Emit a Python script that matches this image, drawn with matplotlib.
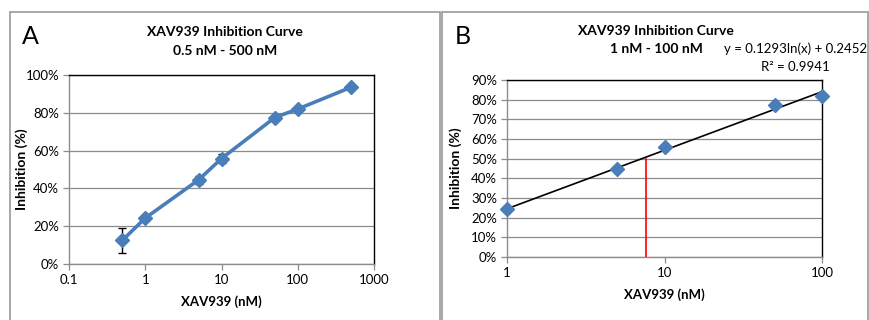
import numpy as np
import matplotlib.pyplot as plt
from matplotlib.patches import Rectangle
from matplotlib.ticker import FuncFormatter, FixedLocator, NullLocator

plt.rcParams['font.family'] = ['Lato', 'DejaVu Sans']

# panel A data
conc_a = [0.5, 1, 5, 10, 50, 100, 500]
inhib_a = [12.5, 24.3, 44.5, 55.8, 77.5, 82.0, 93.5]
err_a = [6.5, 0.5, 2.0, 2.2, 0.5, 0.5, 0.3]

# panel B data
conc_b = [1, 5, 10, 50, 100]
inhib_b = [24.3, 44.5, 55.8, 77.5, 82.0]
fit_a, fit_b = 0.1293, 0.2452
ic50_x = 7.6

blue = '#4A7EBB'
W, H = 869, 320

fig = plt.figure(figsize=(W / 100, H / 100), dpi=100)


def px_axes(l, t, r, b):
    return fig.add_axes([l / W, 1 - b / H, (r - l) / W, (b - t) / H])


# panel frames
fig.patches.append(Rectangle((10 / W, -0.1), 430 / W, 1.1 - 12 / H, transform=fig.transFigure,
                             fill=False, ec='#9a9a9a', lw=1.2))
fig.patches.append(Rectangle((442 / W, -0.1), 426 / W, 1.1 - 12 / H, transform=fig.transFigure,
                             fill=False, ec='#9a9a9a', lw=1.2))


def style(ax, ylab_x):
    ax.set_xscale('log')
    ax.yaxis.grid(True, color='#8c8c8c', lw=0.9)
    ax.set_axisbelow(True)
    ax.spines['top'].set_color('black')
    ax.spines['right'].set_color('black')
    ax.spines['left'].set_color('#8c8c8c')
    ax.spines['bottom'].set_color('#8c8c8c')
    for s in ax.spines.values():
        s.set_linewidth(1.0)
    ax.tick_params(axis='both', labelsize=9.5, color='#8c8c8c', length=4, width=0.9, pad=3)
    ax.xaxis.set_minor_locator(NullLocator())
    ax.xaxis.set_major_formatter(FuncFormatter(lambda v, p: '%g' % v))
    ax.yaxis.set_major_formatter(FuncFormatter(lambda v, p: '%d%%' % round(v)))
    ax.set_xlabel('XAV939 (nM)', fontsize=9.5, fontweight='bold', labelpad=7)
    ax.set_ylabel('Inhibition (%)', fontsize=10, fontweight='bold')
    ax.yaxis.set_label_coords(ylab_x, 0.5)


# ---- panel A
ax1 = px_axes(69, 75, 374, 264)
style(ax1, -0.134)
ax1.errorbar(conc_a, inhib_a, yerr=err_a, fmt='none', ecolor='black', elinewidth=1,
             capsize=3, zorder=2)
ax1.plot(conc_a, inhib_a, color=blue, lw=2.6, marker='D', ms=7.5, zorder=3)
ax1.set_xlim(0.1, 1000)
ax1.set_ylim(0, 100)
ax1.xaxis.set_major_locator(FixedLocator([0.1, 1, 10, 100, 1000]))
ax1.set_yticks(np.arange(0, 101, 20))
fig.text(30 / W, 1 - 37 / H, 'A', fontsize=18, ha='center', va='center')
fig.text(225 / W, 1 - 32 / H, 'XAV939 Inhibition Curve', fontsize=10, fontweight='bold',
         ha='center', va='center')
fig.text(225 / W, 1 - 51 / H, '0.5 nM - 500 nM', fontsize=10, fontweight='bold',
         ha='center', va='center')

# ---- panel B
ax2 = px_axes(507, 80, 822, 257)
style(ax2, -0.143)
xs = np.array([1, 100])
ax2.plot(xs, (fit_a * np.log(xs) + fit_b) * 100, color='black', lw=1.2, zorder=3)
ax2.plot(conc_b, inhib_b, ls='none', color=blue, marker='D', ms=7.5, zorder=4, clip_on=False)
ax2.plot([ic50_x, ic50_x], [0, 50], color='red', lw=1.2, zorder=3)
ax2.set_xlim(1, 100)
ax2.set_ylim(0, 90)
ax2.xaxis.set_major_locator(FixedLocator([1, 10, 100]))
ax2.set_yticks(np.arange(0, 91, 10))
fig.text(463 / W, 1 - 37 / H, 'B', fontsize=18, ha='center', va='center')
fig.text(656 / W, 1 - 31 / H, 'XAV939 Inhibition Curve', fontsize=10, fontweight='bold',
         ha='center', va='center')
fig.text(656 / W, 1 - 49 / H, '1 nM - 100 nM', fontsize=10, fontweight='bold',
         ha='center', va='center')
fig.text(867 / W, 1 - 49 / H, 'y = 0.1293ln(x) + 0.2452', fontsize=9.5, ha='right', va='center')
fig.text(830 / W, 1 - 67 / H, 'R² = 0.9941', fontsize=9.5, ha='right', va='center')

fig.savefig('out.png', dpi=100)
